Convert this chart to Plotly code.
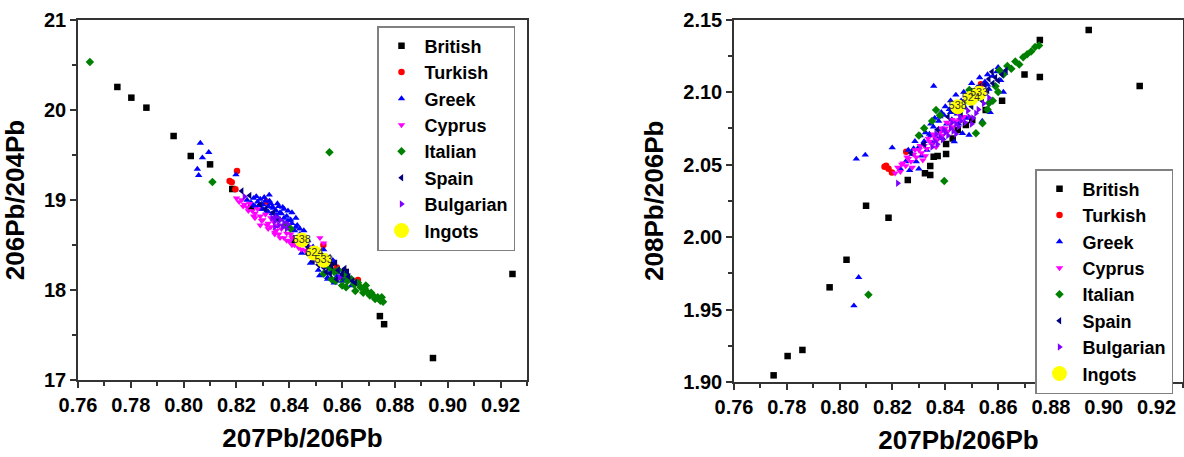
import plotly.graph_objects as go

# ---------------- Left panel data: 207Pb/206Pb vs 206Pb/204Pb ----------------
BRIT_L_X = [0.7749, 0.7802, 0.7859, 0.7962, 0.8027, 0.8100, 0.8184, 0.8256, 0.8944, 0.9245, 0.8743, 0.8759,
            0.8420, 0.8500, 0.8540, 0.8565, 0.8610]
BRIT_L_Y = [20.256, 20.137, 20.026, 19.711, 19.489, 19.396, 19.122, 18.919, 17.244, 18.178, 17.71, 17.62,
            18.55, 18.40, 18.33, 18.30, 18.20]

TURK_L_X = [0.8202, 0.8174, 0.8182, 0.8196, 0.8529, 0.8660, 0.8314, 0.8580]
TURK_L_Y = [19.322, 19.21, 19.197, 19.119, 18.50, 18.11, 18.98, 18.25]

GREEK_L_X = [0.8063, 0.8095, 0.8071, 0.8052, 0.8057, 0.8198, 0.8324,
             0.8240, 0.8255, 0.8265, 0.8270, 0.8280, 0.8290, 0.8295, 0.8300, 0.8310, 0.8315, 0.8320, 0.8330,
             0.8335, 0.8340, 0.8345, 0.8350, 0.8360, 0.8365, 0.8370, 0.8380, 0.8385, 0.8390, 0.8400, 0.8405,
             0.8410, 0.8420, 0.8430, 0.8440, 0.8455, 0.8470, 0.8490, 0.8505, 0.8520, 0.8530, 0.8540, 0.8555,
             0.8565, 0.8580, 0.8590, 0.8600, 0.8620, 0.8635, 0.8480, 0.8510, 0.8415, 0.8447,
             0.8275, 0.8305, 0.8325, 0.8355, 0.8375, 0.8395, 0.8425, 0.8545, 0.8570, 0.8515,
             0.8260, 0.8285, 0.8300, 0.8320, 0.8335, 0.8350, 0.8365, 0.8380, 0.8395, 0.8410, 0.8425, 0.8440,
             0.8450, 0.8465, 0.8500, 0.8525, 0.8550, 0.8575, 0.8610, 0.8545]
GREEK_L_Y = [19.633, 19.530, 19.470, 19.344, 19.274, 19.281, 19.056,
             19.00, 18.97, 19.02, 18.93, 18.98, 19.01, 18.90, 18.95, 18.99, 18.88, 18.93, 18.96,
             18.85, 18.91, 18.80, 18.88, 18.93, 18.78, 18.85, 18.90, 18.74, 18.82, 18.70, 18.78,
             18.86, 18.66, 18.72, 18.62, 18.66, 18.55, 18.48, 18.38, 18.30, 18.45, 18.25, 18.20,
             18.33, 18.15, 18.22, 18.10, 18.14, 18.05, 18.30, 18.22, 18.58, 18.41,
             19.04, 19.03, 18.99, 18.96, 18.92, 18.88, 18.80, 18.12, 18.08, 18.16,
             18.95, 18.94, 18.90, 18.87, 18.92, 18.83, 18.86, 18.80, 18.77, 18.74, 18.70, 18.68,
             18.60, 18.50, 18.42, 18.35, 18.28, 18.20, 18.12, 18.14]

CYP_L_X = [0.8200, 0.8210, 0.8220, 0.8230, 0.8240, 0.8250, 0.8260, 0.8270, 0.8280, 0.8290, 0.8300, 0.8310,
           0.8320, 0.8330, 0.8340, 0.8350, 0.8360, 0.8370, 0.8380, 0.8390, 0.8400, 0.8410, 0.8420, 0.8435,
           0.8450, 0.8460, 0.8516, 0.8330, 0.8290, 0.8355, 0.8265, 0.8315, 0.8345, 0.8405,
           0.8225, 0.8245, 0.8270, 0.8295, 0.8320, 0.8345, 0.8365, 0.8390, 0.8410, 0.8430, 0.8445, 0.8470,
           0.8530]
CYP_L_Y = [19.02, 18.98, 19.00, 18.95, 18.92, 18.96, 18.88, 18.85, 18.90, 18.82, 18.78, 18.84,
           18.74, 18.70, 18.76, 18.66, 18.62, 18.68, 18.58, 18.63, 18.54, 18.58, 18.50, 18.47,
           18.52, 18.44, 18.58, 18.80, 18.72, 18.72, 18.82, 18.72, 18.64, 18.62,
           18.93, 18.88, 18.80, 18.77, 18.68, 18.62, 18.58, 18.55, 18.50, 18.53, 18.45, 18.48,
           18.52]

ITAL_L_X = [0.7645, 0.8109, 0.8552, 0.8385, 0.8405, 0.8500, 0.8520, 0.8540, 0.8555, 0.8570, 0.8585, 0.8595,
            0.8610, 0.8620, 0.8635, 0.8645, 0.8660, 0.8670, 0.8685, 0.8695, 0.8710, 0.8720, 0.8735, 0.8745,
            0.8755, 0.8600, 0.8560, 0.8530, 0.8650, 0.8705, 0.8575, 0.8615, 0.8680, 0.8725, 0.8690, 0.8750]
ITAL_L_Y = [20.533, 19.20, 19.530, 18.72, 18.68, 18.38, 18.34, 18.28, 18.24, 18.20, 18.22, 18.14,
            18.17, 18.10, 18.12, 18.06, 18.08, 18.03, 18.02, 17.98, 17.97, 17.93, 17.92, 17.88,
            17.87, 18.05, 18.12, 18.18, 17.99, 17.94, 18.10, 18.03, 17.97, 17.90, 18.05, 17.92]

SPAIN_L_X = [0.8220, 0.8250, 0.8290, 0.8310, 0.8340, 0.8440, 0.8470, 0.8500, 0.8520, 0.8535, 0.8550, 0.8560,
             0.8575, 0.8585, 0.8600, 0.8610, 0.8625, 0.8640, 0.8540, 0.8580, 0.8490, 0.8360,
             0.8510, 0.8530, 0.8555, 0.8595, 0.8620, 0.8650, 0.8470]
SPAIN_L_Y = [19.10, 19.05, 18.95, 18.90, 18.86, 18.55, 18.48, 18.45, 18.38, 18.32, 18.36, 18.27,
             18.30, 18.22, 18.18, 18.24, 18.15, 18.10, 18.20, 18.12, 18.32, 18.78,
             18.28, 18.25, 18.18, 18.15, 18.20, 18.08, 18.40]

BULG_L_X = [0.8335, 0.8345, 0.8350, 0.8360, 0.8365, 0.8375, 0.8380, 0.8390, 0.8395, 0.8345, 0.8440, 0.8590,
            0.8500, 0.8230]
BULG_L_Y = [18.80, 18.76, 18.81, 18.72, 18.78, 18.70, 18.75, 18.68, 18.73, 18.70, 18.52, 18.14,
            18.35, 19.04]

INGOT_LABELS = ["538", "524", "533"]
INGOT_L_X = [0.8447, 0.8495, 0.8530]
INGOT_L_Y = [18.556, 18.41, 18.33]

# ---------------- Right panel data: 207Pb/206Pb vs 208Pb/206Pb ----------------
BRIT_R_X = [0.7750, 0.7803, 0.7859, 0.7962, 0.8026, 0.8100, 0.8185, 0.8943, 0.9136, 0.8758, 0.8758,
            0.8258, 0.8323, 0.8343, 0.8343, 0.8356, 0.8371, 0.8403, 0.8403, 0.8428, 0.8447, 0.8478,
            0.8502, 0.8553, 0.8615, 0.8700]
BRIT_R_Y = [1.9046, 1.9179, 1.9221, 1.9653, 1.9843, 2.0216, 2.0133, 2.1428, 2.1041, 2.1359, 2.1103,
            2.0393, 2.0439, 2.0428, 2.0490, 2.0554, 2.0559, 2.0572, 2.0641, 2.0680, 2.0738, 2.0772,
            2.0807, 2.0876, 2.0940, 2.1120]

TURK_R_X = [0.8176, 0.8198, 0.8252, 0.8535, 0.8185, 0.8170]
TURK_R_Y = [2.0492, 2.0444, 2.0588, 2.1053, 2.0470, 2.0485]

GREEK_R_X = [0.8063, 0.8097, 0.8199, 0.8072, 0.8054, 0.8356,
             0.8230, 0.8250, 0.8265, 0.8275, 0.8290, 0.8300, 0.8310, 0.8320, 0.8330, 0.8340, 0.8350, 0.8355,
             0.8365, 0.8375, 0.8385, 0.8395, 0.8405, 0.8415, 0.8425, 0.8435, 0.8445, 0.8460, 0.8475, 0.8490,
             0.8505, 0.8520, 0.8535, 0.8550, 0.8565, 0.8580, 0.8595, 0.8610, 0.8465, 0.8490, 0.8434, 0.8540,
             0.8570, 0.8620, 0.8300, 0.8390, 0.8280, 0.8315, 0.8345, 0.8380, 0.8420, 0.8455, 0.8515, 0.8560,
             0.8260, 0.8285, 0.8305, 0.8325, 0.8345, 0.8360, 0.8385, 0.8400, 0.8420, 0.8440, 0.8470, 0.8500,
             0.8530, 0.8560, 0.8600, 0.8625, 0.8450, 0.8480]
GREEK_R_Y = [2.0538, 2.0566, 2.0616, 1.9722, 1.9526, 2.1041,
             2.047, 2.052, 2.046, 2.057, 2.052, 2.062, 2.056, 2.066, 2.060, 2.071, 2.065, 2.076,
             2.069, 2.080, 2.074, 2.084, 2.078, 2.088, 2.081, 2.092, 2.085, 2.094, 2.089, 2.099,
             2.094, 2.103, 2.098, 2.107, 2.102, 2.111, 2.114, 2.108, 2.0715, 2.0703, 2.0657, 2.080,
             2.086, 2.100, 2.047, 2.068, 2.061, 2.064, 2.070, 2.083, 2.086, 2.091, 2.100, 2.105,
             2.060, 2.066, 2.070, 2.072, 2.078, 2.082, 2.086, 2.090, 2.094, 2.098, 2.100, 2.106,
             2.110, 2.112, 2.117, 2.113, 2.078, 2.082]

CYP_R_X = [0.8210, 0.8220, 0.8230, 0.8240, 0.8250, 0.8260, 0.8270, 0.8280, 0.8290, 0.8300, 0.8310, 0.8320,
           0.8330, 0.8340, 0.8350, 0.8360, 0.8370, 0.8380, 0.8390, 0.8400, 0.8410, 0.8420, 0.8430, 0.8440,
           0.8455, 0.8470, 0.8325, 0.8365, 0.8235, 0.8255, 0.8285, 0.8305, 0.8335, 0.8355, 0.8385, 0.8405,
           0.8425, 0.8450, 0.8275, 0.8315]
CYP_R_Y = [2.044, 2.048, 2.045, 2.051, 2.049, 2.054, 2.052, 2.057, 2.055, 2.060, 2.058, 2.063,
           2.061, 2.066, 2.064, 2.069, 2.067, 2.072, 2.070, 2.075, 2.073, 2.078, 2.076, 2.080,
           2.081, 2.083, 2.056, 2.062, 2.050, 2.055, 2.060, 2.063, 2.068, 2.071, 2.075, 2.079,
           2.081, 2.085, 2.048, 2.053]

ITAL_R_X = [0.8109, 0.8396, 0.8365, 0.8380, 0.8350, 0.8491, 0.8510, 0.8541, 0.8560, 0.8566, 0.8590, 0.8605,
            0.8620, 0.8635, 0.8650, 0.8665, 0.8680, 0.8695, 0.8710, 0.8725, 0.8740, 0.8755, 0.8600, 0.8580,
            0.8516, 0.8300, 0.8320]
ITAL_R_Y = [1.9602, 2.0386, 2.0876, 2.084, 2.080, 2.1014, 2.098, 2.0784, 2.088, 2.0924, 2.104, 2.115,
            2.112, 2.118, 2.116, 2.121, 2.119, 2.124, 2.126, 2.128, 2.131, 2.132, 2.100, 2.094,
            2.0715, 2.070, 2.075]

SPAIN_R_X = [0.8270, 0.8320, 0.8370, 0.8410, 0.8450, 0.8480, 0.8510, 0.8530, 0.8550, 0.8565, 0.8577, 0.8590,
             0.8600, 0.8615, 0.8630, 0.8540, 0.8500, 0.8460, 0.8430, 0.8470, 0.8520, 0.8560, 0.8580]
SPAIN_R_Y = [2.058, 2.064, 2.074, 2.083, 2.090, 2.095, 2.100, 2.104, 2.105, 2.109, 2.114, 2.110,
             2.108, 2.112, 2.115, 2.094, 2.090, 2.085, 2.087, 2.092, 2.098, 2.101, 2.106]

BULG_R_X = [0.8220, 0.8350, 0.8360, 0.8370, 0.8380, 0.8390, 0.8400, 0.8410, 0.8420, 0.8430, 0.8440, 0.8450,
            0.8460, 0.8475, 0.8490, 0.8505, 0.8516, 0.8525, 0.8545, 0.8565, 0.8365, 0.8395, 0.8425, 0.8455,
            0.8485, 0.8500, 0.8440]
BULG_R_Y = [2.037, 2.062, 2.066, 2.064, 2.069, 2.067, 2.072, 2.070, 2.075, 2.073, 2.078, 2.076,
            2.080, 2.079, 2.083, 2.082, 2.0853, 2.088, 2.092, 2.096, 2.071, 2.074, 2.079, 2.083,
            2.087, 2.078, 2.071]

INGOT_R_X = [0.8447, 0.8497, 0.8528]
INGOT_R_Y = [2.0899, 2.0957, 2.0991]

X_TICKS = [0.76, 0.78, 0.80, 0.82, 0.84, 0.86, 0.88, 0.90, 0.92]

# ---------------- styling ----------------
SERIES = [
    ("British", "square", "#000000"),
    ("Turkish", "circle", "#ff0000"),
    ("Greek", "triangle-up", "#0000ff"),
    ("Cyprus", "triangle-down", "#ff00ff"),
    ("Italian", "diamond", "#008000"),
    ("Spain", "triangle-left", "#000080"),
    ("Bulgarian", "triangle-right", "#8000ff"),
]
LEFT = [(BRIT_L_X, BRIT_L_Y), (TURK_L_X, TURK_L_Y), (GREEK_L_X, GREEK_L_Y), (CYP_L_X, CYP_L_Y),
        (ITAL_L_X, ITAL_L_Y), (SPAIN_L_X, SPAIN_L_Y), (BULG_L_X, BULG_L_Y)]
RIGHT = [(BRIT_R_X, BRIT_R_Y), (TURK_R_X, TURK_R_Y), (GREEK_R_X, GREEK_R_Y), (CYP_R_X, CYP_R_Y),
         (ITAL_R_X, ITAL_R_Y), (SPAIN_R_X, SPAIN_R_Y), (BULG_R_X, BULG_R_Y)]

FONT = "Liberation Sans, Arial, sans-serif"
W, H = 1184, 457

fig = go.Figure()
for (name, sym, col), (lx, ly), (rx, ry) in zip(SERIES, LEFT, RIGHT):
    fig.add_trace(go.Scatter(x=lx, y=ly, mode="markers", name=name, legend="legend",
                             marker=dict(symbol=sym, color=col, size=6.5, line=dict(width=0)),
                             xaxis="x", yaxis="y"))
    fig.add_trace(go.Scatter(x=rx, y=ry, mode="markers", name=name, legend="legend2",
                             marker=dict(symbol=sym, color=col, size=6.5, line=dict(width=0)),
                             xaxis="x2", yaxis="y2"))

for xs, ys, xa, ya, lg in [(INGOT_L_X, INGOT_L_Y, "x", "y", "legend"),
                           (INGOT_R_X, INGOT_R_Y, "x2", "y2", "legend2")]:
    fig.add_trace(go.Scatter(x=xs, y=ys, mode="markers", name="Ingots", legend=lg,
                             marker=dict(symbol="circle", color="#ffff00", size=15, line=dict(width=0)),
                             xaxis=xa, yaxis=ya))
    fig.add_trace(go.Scatter(x=xs, y=ys, mode="text", text=INGOT_LABELS, showlegend=False,
                             textfont=dict(family=FONT, size=11, color="#333333"),
                             xaxis=xa, yaxis=ya, hoverinfo="skip"))

axis_common = dict(showgrid=False, zeroline=False, showline=True, linecolor="#333333", linewidth=1.5,
                   mirror=True, ticks="outside", ticklen=6, tickwidth=1.5, tickcolor="#333333",
                   automargin=False,
                   tickfont=dict(family=FONT, size=20, color="#000000", weight="bold"))

title_font = dict(family=FONT, size=26, color="#000000", weight="bold")
legend_font = dict(family=FONT, size=18, color="#000000", weight="bold")

fig.update_layout(
    width=W, height=H, margin=dict(l=0, r=0, t=0, b=0),
    paper_bgcolor="white", plot_bgcolor="white",
    xaxis=dict(domain=[78 / W, 527 / W], range=[0.76, 0.93], tickvals=X_TICKS, tickformat=".2f",
               minor=dict(ticks="outside", ticklen=4, dtick=0.01, tick0=0.76, tickcolor="#333333"),
               title=dict(text="207Pb/206Pb", font=title_font, standoff=14), anchor="y", **axis_common),
    yaxis=dict(domain=[1 - 380 / H, 1 - 20 / H], range=[17, 21], dtick=1, tick0=17,
               minor=dict(ticks="outside", ticklen=4, dtick=0.5, tick0=17, tickcolor="#333333"),
               title=dict(text="206Pb/204Pb", font=title_font, standoff=12), anchor="x", **axis_common),
    xaxis2=dict(domain=[734 / W, 1183 / W], range=[0.76, 0.93], tickvals=X_TICKS, tickformat=".2f",
                minor=dict(ticks="outside", ticklen=4, dtick=0.01, tick0=0.76, tickcolor="#333333"),
                title=dict(text="207Pb/206Pb", font=title_font, standoff=14), anchor="y2", **axis_common),
    yaxis2=dict(domain=[1 - 382 / H, 1 - 19.5 / H], range=[1.90, 2.15], dtick=0.05, tick0=1.90,
                tickformat=".2f",
                minor=dict(ticks="outside", ticklen=4, dtick=0.025, tick0=1.90, tickcolor="#333333"),
                title=dict(text="208Pb/206Pb", font=title_font, standoff=12), anchor="x2", **axis_common),
    legend=dict(x=377 / W, y=1 - 26 / H, xanchor="left", yanchor="top", bgcolor="white",
                bordercolor="#808080", borderwidth=1.5, itemwidth=36, font=legend_font),
    legend2=dict(x=1035 / W, y=1 - 169 / H, xanchor="left", yanchor="top", bgcolor="white",
                 bordercolor="#808080", borderwidth=1.5, itemwidth=36, font=legend_font),
    showlegend=True,
)

fig.write_html("out.html", config={"displayModeBar": False},
               post_script="document.body.style.margin='0';document.body.style.overflow='hidden';")
